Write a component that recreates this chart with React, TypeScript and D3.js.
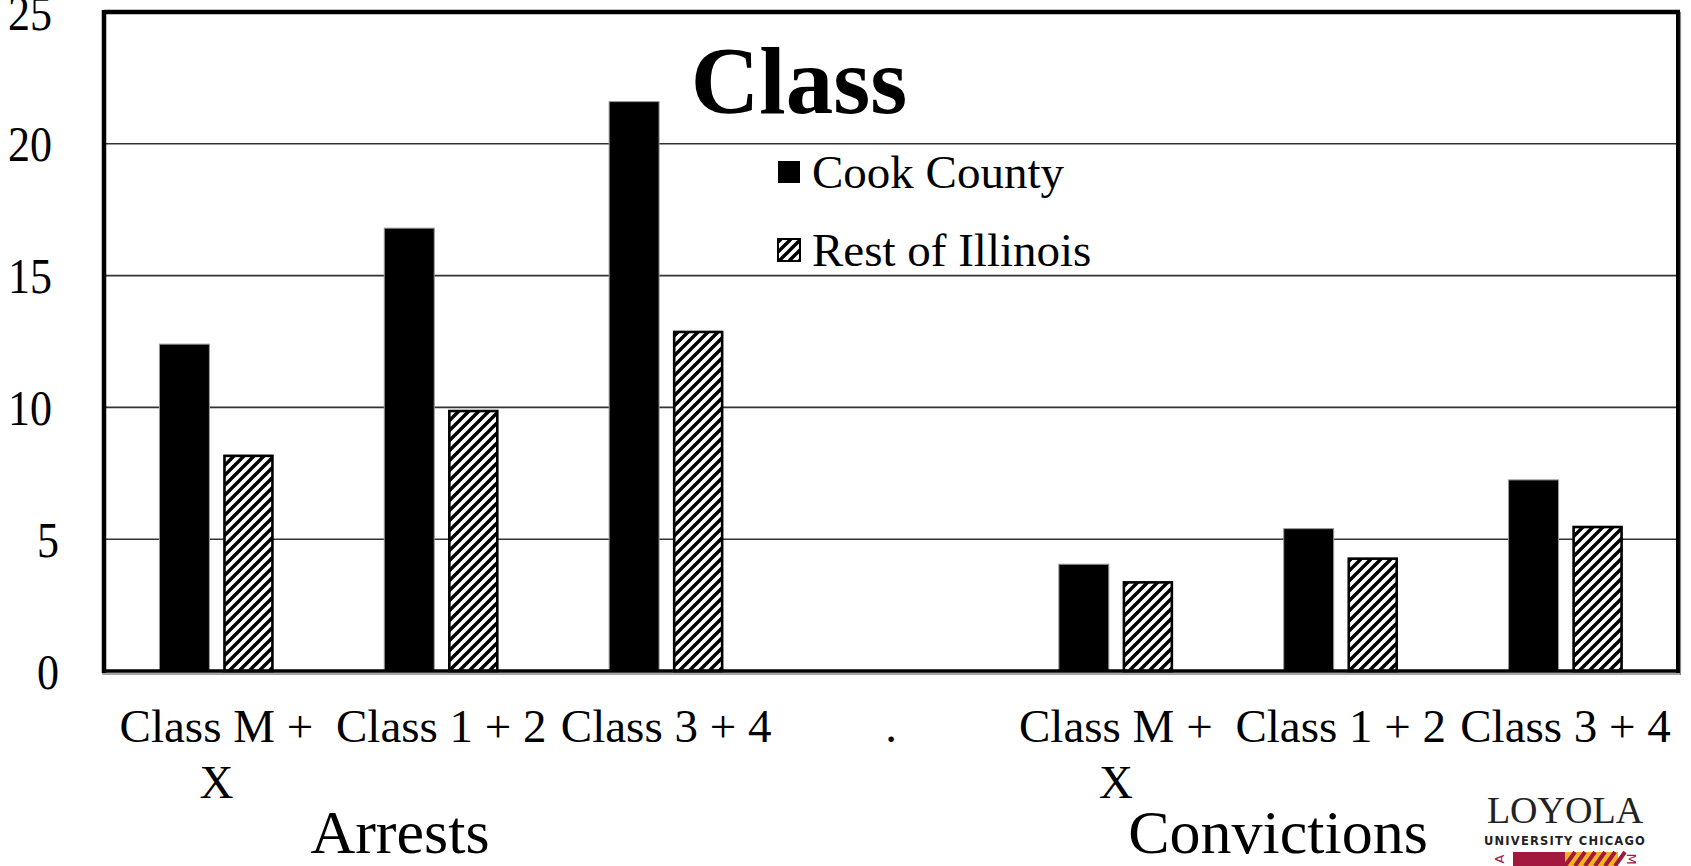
import React from "react";
import * as d3 from "d3";

const categoryLines: string[][] = [
  ["Class M +", "X"],
  ["Class 1 + 2"],
  ["Class 3 + 4"],
  ["."],
  ["Class M +", "X"],
  ["Class 1 + 2"],
  ["Class 3 + 4"],
];
const seriesNames = ["Cook County", "Rest of Illinois"];
const cookCounty: (number | null)[] = [12.4, 16.8, 21.6, null, 4.05, 5.4, 7.25];
const restOfIllinois: (number | null)[] = [8.2, 9.9, 12.9, null, 3.4, 4.3, 5.5];
const yTicks = [0, 5, 10, 15, 20, 25];
const groupLabels = ["Arrests", "Convictions"];

const W = 1691;
const H = 866;
const left = 104;
const right = 1678;
const top = 12;
const bottom = 671;
const serif = "Liberation Serif, Tinos, Times New Roman, DejaVu Serif, serif";
const sans = "DejaVu Sans, Liberation Sans, sans-serif";

export default function App() {
  const idx = categoryLines.map((_, i) => String(i));
  const x = d3.scaleBand<string>().domain(idx).range([left, right]).paddingInner(0).paddingOuter(0);
  const inner = d3.scaleBand<string>().domain(seriesNames).range([-57, 57]).paddingInner(0.22).paddingOuter(0);
  const y = d3.scaleLinear().domain([0, 25]).range([bottom, top]);
  const cx = (i: number) => (x(String(i)) as number) + x.bandwidth() / 2;
  const series = [cookCounty, restOfIllinois];
  const sf = { fontFamily: serif };

  return (
    <svg width={W} height={H} style={{ position: "absolute", top: 0, left: 0, display: "block", background: "#fff" }}>
      <defs>
        <pattern id="hatch" patternUnits="userSpaceOnUse" width={10} height={10}>
          <rect width={10} height={10} fill="#fff" />
          <path d="M-3,3 L3,-3 M0,10 L10,0 M7,13 L13,7" stroke="#000" strokeWidth={3.4} />
        </pattern>
      </defs>

      {yTicks.filter((t) => t > 0 && t < 25).map((t) => (
        <line key={t} x1={left} x2={right} y1={y(t)} y2={y(t)} stroke="#333" strokeWidth={1.6} />
      ))}

      {yTicks.map((t) => (
        <text
          key={t}
          transform={`translate(${t < 10 ? 59 : 52},${y(t)}) scale(0.88,1)`}
          dy="0.35em"
          textAnchor="end"
          style={sf}
          fontSize={50}
          fill="#000"
        >
          {t}
        </text>
      ))}

      {series.map((vals, s) =>
        vals.map((v, i) => {
          if (v == null) return null;
          const bx = cx(i) + (inner(seriesNames[s]) as number);
          const bw = inner.bandwidth();
          const yy = y(v);
          return s === 0 ? (
            <rect key={`${s}-${i}`} x={bx} y={yy} width={bw} height={bottom - yy} fill="#000" stroke="#999" strokeWidth={1} />
          ) : (
            <rect key={`${s}-${i}`} x={bx + 1} y={yy + 1} width={bw - 2} height={bottom - yy - 1} fill="url(#hatch)" stroke="#000" strokeWidth={2.6} />
          );
        })
      )}

      <line x1={left} x2={right + 2} y1={top} y2={top} stroke="#000" strokeWidth={4.5} />
      <line x1={left} x2={left} y1={top - 2} y2={bottom + 2} stroke="#000" strokeWidth={4.5} />
      <line x1={right} x2={right} y1={top - 2} y2={bottom + 2} stroke="#000" strokeWidth={4} />
      <line x1={right + 2.5} x2={right + 2.5} y1={top} y2={bottom + 4} stroke="#888" strokeWidth={1.2} />
      <line x1={left - 2} x2={right + 2} y1={bottom} y2={bottom} stroke="#000" strokeWidth={3.5} />
      <line x1={left - 2} x2={right + 3} y1={bottom + 3} y2={bottom + 3} stroke="#888" strokeWidth={1.5} />

      <text x={799} y={113} textAnchor="middle" style={sf} fontWeight="bold" fontSize={95} fill="#000">
        Class
      </text>

      {seriesNames.map((name, s) => {
        const ly = s === 0 ? 172 : 250;
        return (
          <g key={name}>
            <rect x={778} y={ly - 11} width={22} height={22} fill={s === 0 ? "#000" : "url(#hatch)"} stroke="#000" strokeWidth={s === 0 ? 0 : 2} />
            <text x={812} y={ly} dy="0.33em" style={sf} fontSize={47} fill="#000">
              {name}
            </text>
          </g>
        );
      })}

      {categoryLines.map((lines, i) => (
        <text key={i} x={cx(i)} y={742} textAnchor="middle" style={sf} fontSize={47} fill="#000">
          {lines.map((ln, j) => (
            <tspan key={j} x={cx(i)} dy={j === 0 ? 0 : 56}>
              {ln}
            </tspan>
          ))}
        </text>
      ))}

      <text x={400} y={853} textAnchor="middle" style={sf} fontSize={62} fill="#000">
        {groupLabels[0]}
      </text>
      <text x={1278} y={853} textAnchor="middle" style={sf} fontSize={62} fill="#000">
        {groupLabels[1]}
      </text>

      <g>
        <text x={1565} y={823} textAnchor="middle" style={sf} fontSize={38} fill="#222">
          LOYOLA
        </text>
        <text x={1565} y={845} textAnchor="middle" style={{ fontFamily: sans }} fontWeight="bold" fontSize={11.5} letterSpacing={1.2} fill="#222">
          UNIVERSITY CHICAGO
        </text>
        <rect x={1513} y={852} width={52} height={14} fill="#a3183e" />
        <rect x={1565} y={852} width={53} height={14} fill="#f0b323" />
        {d3.range(0, 6).map((k) => (
          <path key={k} d={`M${1565 + k * 10},866 L${1575 + k * 10},852`} stroke="#a3183e" strokeWidth={4} />
        ))}
        <text transform="translate(1499,859) rotate(-90)" textAnchor="middle" dy="0.35em" style={{ fontFamily: sans }} fontSize={13} fill="#a3183e">
          A
        </text>
        <text transform="translate(1632,859) rotate(90)" textAnchor="middle" dy="0.35em" style={{ fontFamily: sans }} fontSize={13} fill="#a3183e">
          M
        </text>
      </g>
    </svg>
  );
}
